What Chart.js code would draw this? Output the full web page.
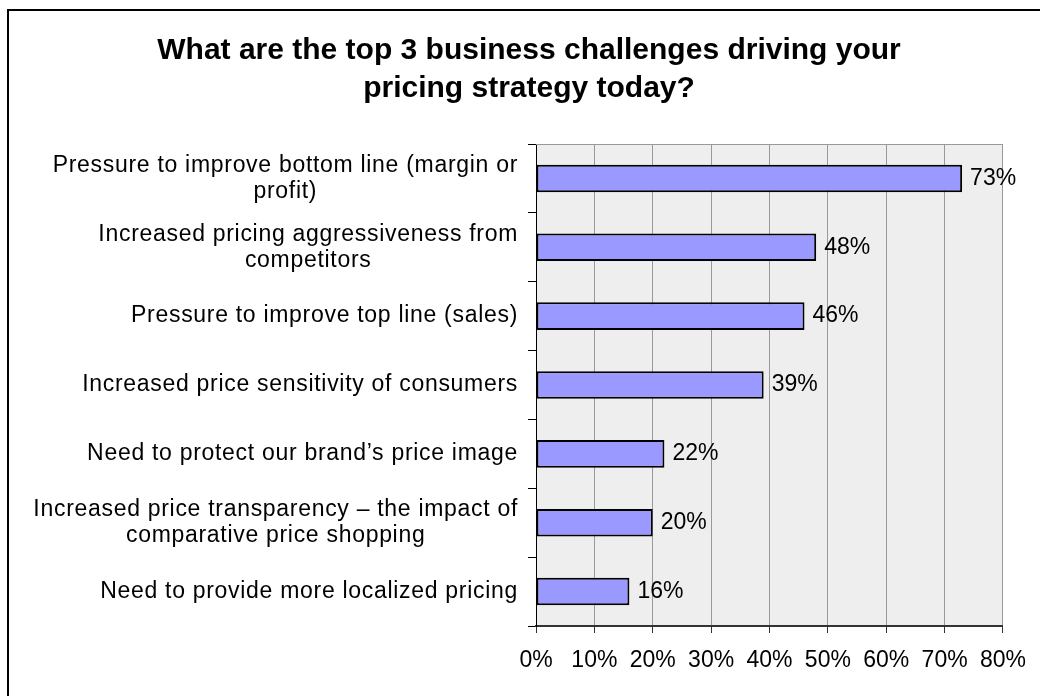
<!DOCTYPE html>
<html>
<head>
<meta charset="utf-8">
<title>Pricing strategy challenges</title>
<script src="https://cdn.jsdelivr.net/npm/chart.js@4/dist/chart.umd.min.js"></script>
<style>
    html, body { margin: 0; padding: 0; background: #fff; }
    #wrap { width: 1040px; height: 696px; }
</style>
</head>
<body>
<div id="wrap"><canvas id="chart" width="1040" height="696"></canvas></div>
<script>
// 题目与数据
const titleLines = [
    'What are the top 3 business challenges driving your',
    'pricing strategy today?'
];

const categories = [
    ['Pressure to improve bottom line (margin or', 'profit)'],
    ['Increased pricing aggressiveness from', 'competitors'],
    ['Pressure to improve top line (sales)'],
    ['Increased price sensitivity of consumers'],
    ['Need to protect our brand\u2019s price image'],
    ['Increased price transparency \u2013 the impact of', 'comparative price shopping'],
    ['Need to provide more localized pricing']
];

const values = [73, 48, 46, 39, 22, 20, 16];

const axisMin = 0;
const axisMax = 80;
const axisStep = 10;

const FONT = "'Liberation Sans', Arial, Helvetica, sans-serif";

// 外框 + 绘图区背景
const backdropPlugin = {
    id: 'backdrop',
    beforeDraw(chart) {
        const { ctx, chartArea: a } = chart;
        ctx.save();
        ctx.strokeStyle = '#000';
        ctx.lineWidth = 2;
        ctx.strokeRect(8, 10, 1100, 1000);
        ctx.fillStyle = '#eeeeee';
        ctx.fillRect(a.left, a.top, a.right - a.left, a.bottom - a.top);
        ctx.restore();
    },
    afterDraw(chart) {
        const { ctx, chartArea: a } = chart;
        ctx.save();
        // 绘图区上边框
        ctx.strokeStyle = '#999';
        ctx.lineWidth = 1;
        ctx.beginPath();
        ctx.moveTo(a.left, a.top + 0.5);
        ctx.lineTo(a.right, a.top + 0.5);
        ctx.stroke();

        // 标题
        ctx.fillStyle = '#000';
        ctx.font = 'bold 30px ' + FONT;
        ctx.textAlign = 'center';
        ctx.textBaseline = 'alphabetic';
        ctx.fillText(titleLines[0], 529, 59);
        ctx.fillText(titleLines[1], 529, 97);

        // 分类标签：整体右对齐，多行时行内居中
        const yScale = chart.scales.y;
        const lineH = 26;
        const right = 518;
        ctx.font = '23px ' + FONT;
        ctx.letterSpacing = '0.7px';
        ctx.textBaseline = 'middle';
        categories.forEach((lines, i) => {
            const cy = yScale.getPixelForValue(i);
            const w = Math.max(...lines.map(l => ctx.measureText(l).width));
            const cx = right - w / 2;
            const y0 = cy - (lines.length - 1) * lineH / 2;
            lines.forEach((l, j) => ctx.fillText(l, cx, y0 + j * lineH));
        });
        ctx.restore();
    }
};

// 数值标签
const valueLabelPlugin = {
    id: 'valueLabels',
    afterDatasetsDraw(chart) {
        const { ctx } = chart;
        const meta = chart.getDatasetMeta(0);
        ctx.save();
        ctx.fillStyle = '#000';
        ctx.font = '23px ' + FONT;
        ctx.textAlign = 'left';
        ctx.textBaseline = 'middle';
        meta.data.forEach((bar, i) => {
            ctx.fillText(values[i] + '%', bar.x + 8, bar.y);
        });
        ctx.restore();
    }
};

new Chart(document.getElementById('chart'), {
    type: 'bar',
    data: {
        labels: categories,
        datasets: [{
            data: values,
            backgroundColor: '#9999ff',
            borderColor: '#000',
            borderWidth: 2,
            borderSkipped: false,
            barPercentage: 0.4,
            categoryPercentage: 1
        }]
    },
    options: {
        indexAxis: 'y',
        responsive: false,
        animation: false,
        devicePixelRatio: 1,
        layout: { padding: { top: 144, right: 33, bottom: 0, left: 0 } },
        plugins: {
            legend: { display: false },
            title: { display: false },
            tooltip: { enabled: false }
        },
        scales: {
            x: {
                min: axisMin,
                max: axisMax,
                afterFit(scale) { scale.height = 70; },
                ticks: {
                    stepSize: axisStep,
                    padding: 14,
                    color: '#000',
                    font: { family: FONT, size: 23 },
                    callback: v => v + '%'
                },
                grid: {
                    color: '#999',
                    lineWidth: 1,
                    tickLength: 7,
                    tickColor: '#333'
                },
                border: { color: '#333', width: 2 }
            },
            y: {
                afterFit(scale) { scale.width = 536; },
                ticks: { display: false },
                grid: {
                    drawOnChartArea: false,
                    offset: true,
                    tickLength: 8,
                    color: '#000'
                },
                border: { color: '#000', width: 1 }
            }
        }
    },
    plugins: [backdropPlugin, valueLabelPlugin]
});
</script>
</body>
</html>
